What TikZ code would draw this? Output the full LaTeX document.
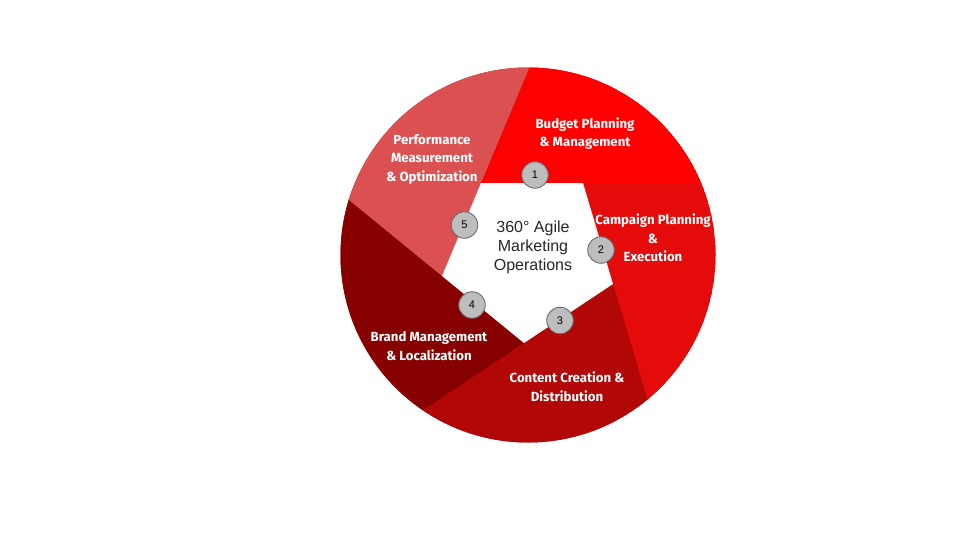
\documentclass[tikz,border=0pt]{standalone}
\usepackage{fontspec}
\setmainfont{Liberation Sans}
\newfontfamily\segfont{Fira Sans}
\usepackage{tikz}
\usetikzlibrary{calc}

\definecolor{budgetred}{HTML}{FF0000}
\definecolor{campaignred}{HTML}{E50B0B}
\definecolor{contentred}{HTML}{B20707}
\definecolor{brandred}{HTML}{860000}
\definecolor{perfred}{HTML}{DB5151}
\definecolor{numfill}{HTML}{BDBDBD}
\definecolor{numdraw}{HTML}{6B6B6B}

\begin{document}
\begin{tikzpicture}[x=1pt,y=-1pt,
  seglabel/.style={white,align=center,font=\segfont\bfseries\fontsize{13.2}{18.5}\selectfont},
  numdot/.style={circle,draw=numdraw,fill=numfill,line width=0.9pt,minimum size=26.5pt,inner sep=0pt,font=\fontsize{11}{11}\selectfont}]
\useasboundingbox (0,0) rectangle (960,540);

\coordinate (c) at (528,255);
\coordinate (v1) at (481,183);
\coordinate (v2) at (583,183);
\coordinate (v3) at (613,284);
\coordinate (v4) at (524,343);
\coordinate (v5) at (442,276);

\begin{scope}
\clip (c) circle (187.5pt);
\fill[contentred] (c) circle (187.5pt);
\foreach \a/\b/\p/\col in {v1/v2/v5/budgetred, v2/v3/v1/campaignred,
    v3/v4/v2/contentred, v4/v5/v3/brandred, v5/v1/v4/perfred}
  \fill[\col] ($(\a)!-4!(\p)$) -- (\a) -- (\b) -- ($(\b)!-4!(\a)$) -- cycle;
\fill[white] (v1) -- (v2) -- (v3) -- (v4) -- (v5) -- cycle;
\end{scope}

\node[seglabel] (budget) at (585,133.5) {Budget Planning\\\& Management};
\node[seglabel] (campaign) at (653,238) {Campaign Planning\\\&\\Execution};
\node[seglabel] (content) at (567,387) {Content Creation \&\\Distribution};
\node[seglabel] (brand) at (429,346) {Brand Management\\\& Localization};
\node[seglabel] (perf) at (432,159) {Performance\\Measurement\\\& Optimization};

\node[align=center,text=black!85,font=\fontsize{16}{19}\selectfont] (hub) at (533,247)
  {360° Agile\\Marketing\\Operations};

\foreach \n/\x/\y in {1/535/175, 2/601/250, 3/560/320.5, 4/472/305, 5/464.5/225}
  \node[numdot] (n\n) at (\x,\y) {\n};
\end{tikzpicture}
\end{document}
